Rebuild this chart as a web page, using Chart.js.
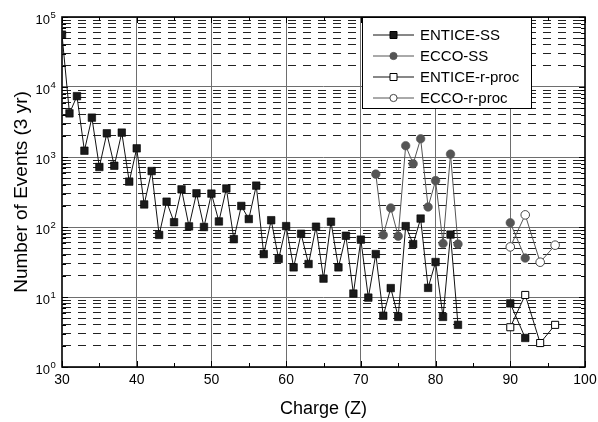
<!DOCTYPE html>
<html>
<head>
<meta charset="utf-8">
<script src="https://cdn.jsdelivr.net/npm/chart.js@4.4.1/dist/chart.umd.min.js"></script>
<style>
html, body { margin: 0; padding: 0; background: #fff; }
canvas { display: block; }
</style>
</head>
<body>
<canvas id="grafico" width="598" height="422"></canvas>
<script>
// datos (carga Z -> numero de eventos en 3 anos)
const enticeSsZ = [30, 31, 32, 33, 34, 35, 36, 37, 38, 39, 40, 41, 42, 43, 44, 45, 46, 47, 48, 49,
                   50, 51, 52, 53, 54, 55, 56, 57, 58, 59, 60, 61, 62, 63, 64, 65, 66, 67, 68, 69,
                   70, 71, 72, 73, 74, 75, 76, 77, 78, 79, 80, 81, 82, 83, 90, 92];
const enticeSs = [56000, 4200, 7400, 1230, 3650, 720, 2180, 750, 2230, 445,
                  1330, 210, 630, 77, 230, 117, 345, 102, 303, 100,
                  300, 120, 355, 67, 200, 130, 390, 41, 125, 35,
                  103, 26.5, 80, 29.6, 101, 18.3, 119, 26.5, 75, 11.2,
                  66, 9.8, 41, 5.4, 13.4, 5.2, 103, 57, 132, 13.5,
                  31.6, 5.2, 78, 4.0, 8.1, 2.6];

const eccoSsZ = [72, 73, 74, 75, 76, 77, 78, 79, 80, 81, 82, 83, 90, 92];
const eccoSs = [570, 77, 187, 74, 1450, 800, 1820, 193, 460, 58, 1100, 57, 115, 36];

const enticeRZ = [90, 92, 94, 96];
const enticeR = [3.7, 10.7, 2.2, 4.0];

const eccoRZ = [90, 92, 94, 96];
const eccoR = [52, 149, 31.4, 55];

const etiquetas = ['ENTICE-SS', 'ECCO-SS', 'ENTICE-r-proc', 'ECCO-r-proc'];

const FUENTE = "'Liberation Sans', Arial, sans-serif";

function puntos(zs, vals) {
    return zs.map((z, i) => ({ x: z, y: vals[i] }));
}

function esDecada(v) {
    const l = Math.log10(v);
    return Math.abs(l - Math.round(l)) < 1e-9;
}

// no unir los puntos separados por un hueco (83 -> 90)
const hueco = c => (c.p1.parsed.x - c.p0.parsed.x > 3 ? 'rgba(0,0,0,0)' : undefined);

// marco, ticks hacia dentro y etiquetas 10^n
const marco = {
    id: 'marco',
    beforeDatasetsDraw(chart) {
        const { ctx, chartArea: a, scales: { x, y } } = chart;
        ctx.save();
        ctx.strokeStyle = '#000';
        ctx.lineWidth = 1;
        ctx.beginPath();
        for (let v = x.min; v <= x.max; v += 5) {
            const px = Math.round(x.getPixelForValue(v)) + 0.5;
            const len = v % 10 === 0 ? 6 : 4;
            ctx.moveTo(px, a.bottom); ctx.lineTo(px, a.bottom - len);
            ctx.moveTo(px, a.top); ctx.lineTo(px, a.top + len);
        }
        y.ticks.forEach(t => {
            const py = Math.round(y.getPixelForValue(t.value)) + 0.5;
            const len = esDecada(t.value) ? 6 : 4;
            ctx.moveTo(a.left, py); ctx.lineTo(a.left + len, py);
            ctx.moveTo(a.right, py); ctx.lineTo(a.right - len, py);
        });
        ctx.stroke();
        ctx.lineWidth = 1.6;
        ctx.strokeRect(a.left, a.top, a.right - a.left, a.bottom - a.top);

        ctx.fillStyle = '#000';
        ctx.textBaseline = 'middle';
        y.ticks.filter(t => esDecada(t.value)).forEach(t => {
            const py = y.getPixelForValue(t.value);
            const e = Math.round(Math.log10(t.value));
            ctx.font = '13px ' + FUENTE;
            ctx.textAlign = 'right';
            ctx.fillText('10', 50, py + 3);
            ctx.font = '9.5px ' + FUENTE;
            ctx.textAlign = 'left';
            ctx.fillText(String(e), 50.5, py - 1.5);
        });
        ctx.restore();
    }
};

// leyenda dibujada a mano: linea - marcador - linea
const leyenda = {
    id: 'leyenda',
    afterDraw(chart) {
        const { ctx } = chart;
        const bx = 362, by = 17, bw = 169, bh = 91;
        ctx.save();
        ctx.fillStyle = '#fff';
        ctx.fillRect(bx, by, bw, bh);
        ctx.strokeStyle = '#000';
        ctx.lineWidth = 1;
        ctx.strokeRect(bx + 0.5, by + 0.5, bw, bh);
        chart.data.datasets.forEach((ds, i) => {
            const yy = 35 + i * 21;
            ctx.strokeStyle = ds.borderColor;
            ctx.lineWidth = 1;
            ctx.beginPath();
            ctx.moveTo(373, yy); ctx.lineTo(414, yy);
            ctx.stroke();
            ctx.fillStyle = ds.pointBackgroundColor;
            ctx.strokeStyle = ds.pointBorderColor;
            ctx.beginPath();
            if (ds.pointStyle === 'rect') ctx.rect(390, yy - 3.5, 7, 7);
            else ctx.arc(393.5, yy, 3.6, 0, Math.PI * 2);
            ctx.fill();
            ctx.stroke();
            ctx.fillStyle = '#000';
            ctx.font = '15px ' + FUENTE;
            ctx.textAlign = 'left';
            ctx.textBaseline = 'middle';
            ctx.fillText(ds.label, 420, yy + 1);
        });
        ctx.restore();
    }
};

const ctx = document.getElementById('grafico').getContext('2d');

new Chart(ctx, {
    type: 'line',
    data: {
        datasets: [{
            label: etiquetas[0],
            data: puntos(enticeSsZ, enticeSs),
            borderColor: '#111',
            borderWidth: 1,
            pointStyle: 'rect',
            pointRadius: 5.3,
            pointBackgroundColor: '#1a1a1a',
            pointBorderColor: '#000',
            pointBorderWidth: 0.6,
            segment: { borderColor: hueco }
        }, {
            label: etiquetas[1],
            data: puntos(eccoSsZ, eccoSs),
            borderColor: '#555',
            borderWidth: 1,
            pointStyle: 'circle',
            pointRadius: 4.3,
            pointBackgroundColor: '#555',
            pointBorderColor: '#555',
            pointBorderWidth: 0.6,
            segment: { borderColor: hueco }
        }, {
            label: etiquetas[2],
            data: puntos(enticeRZ, enticeR),
            borderColor: '#111',
            borderWidth: 1,
            pointStyle: 'rect',
            pointRadius: 5.0,
            pointBackgroundColor: '#fff',
            pointBorderColor: '#000',
            pointBorderWidth: 1
        }, {
            label: etiquetas[3],
            data: puntos(eccoRZ, eccoR),
            borderColor: '#555',
            borderWidth: 1,
            pointStyle: 'circle',
            pointRadius: 4.3,
            pointBackgroundColor: '#fff',
            pointBorderColor: '#444',
            pointBorderWidth: 1
        }]
    },
    options: {
        responsive: false,
        animation: false,
        layout: { padding: { top: 17, right: 13, left: 0, bottom: 0 } },
        plugins: {
            legend: { display: false },
            tooltip: { enabled: false }
        },
        scales: {
            x: {
                type: 'linear',
                min: 30,
                max: 100,
                afterFit: s => { s.height = 55; s.paddingLeft = 0; s.paddingRight = 0; },
                ticks: {
                    stepSize: 10,
                    padding: 5,
                    maxRotation: 0,
                    color: '#000',
                    font: { family: FUENTE, size: 14 }
                },
                grid: {
                    drawTicks: false,
                    color: c => (c.tick && c.tick.value > 30 && c.tick.value < 100 ? '#6e6e6e' : 'rgba(0,0,0,0)'),
                    lineWidth: 1
                },
                border: { display: false },
                title: {
                    display: true,
                    text: 'Charge (Z)',
                    color: '#000',
                    font: { family: FUENTE, size: 18 },
                    padding: { top: 0, bottom: 2 }
                }
            },
            y: {
                type: 'logarithmic',
                min: 1,
                max: 100000,
                afterFit: s => { s.width = 62; },
                afterBuildTicks: s => {
                    const t = [];
                    for (let e = 0; e < 5; e++) {
                        for (let m = 1; m < 10; m++) t.push({ value: m * Math.pow(10, e) });
                    }
                    t.push({ value: 100000 });
                    s.ticks = t;
                },
                ticks: { display: false, autoSkip: false },
                grid: {
                    drawTicks: false,
                    color: c => (c.tick && esDecada(c.tick.value) ? '#6e6e6e' : '#222'),
                    lineWidth: 1
                },
                border: {
                    display: false,
                    dash: c => (c.tick && !esDecada(c.tick.value) ? [8, 7] : []),
                    dashOffset: -1
                },
                title: {
                    display: true,
                    text: 'Number of Events (3 yr)',
                    color: '#000',
                    font: { family: FUENTE, size: 19 },
                    padding: { top: 10, bottom: 0 }
                }
            }
        }
    },
    plugins: [marco, leyenda]
});
</script>
</body>
</html>
